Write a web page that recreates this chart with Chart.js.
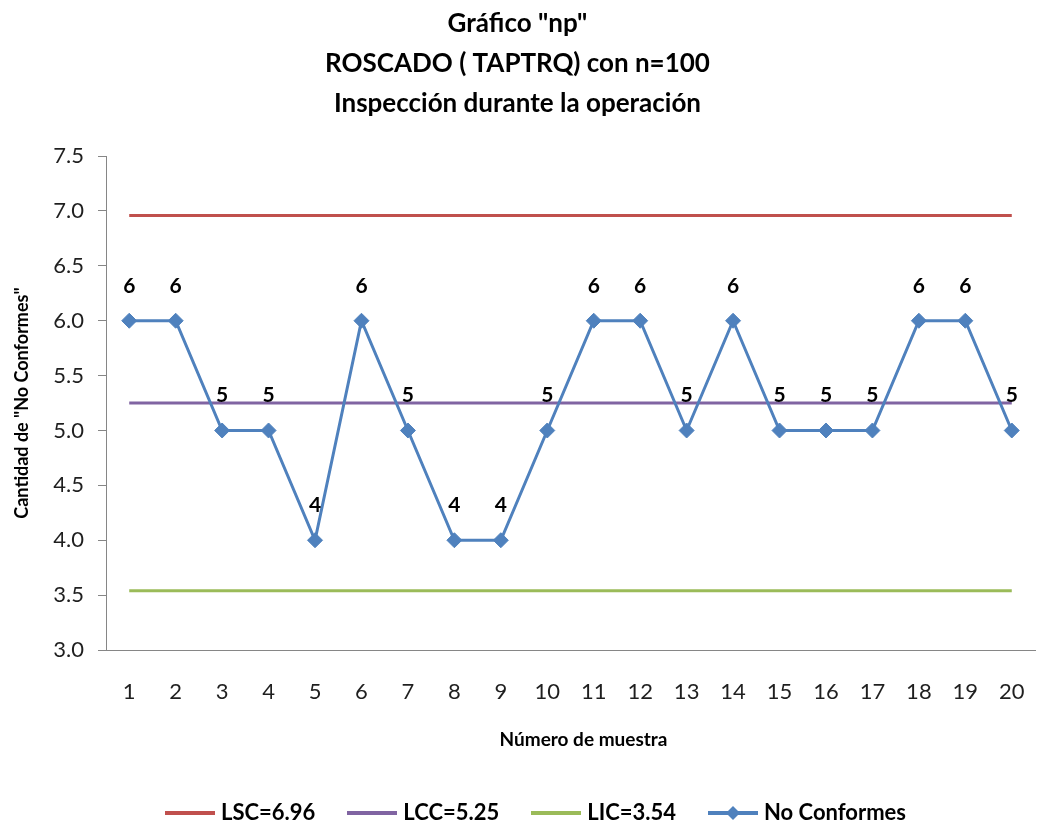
<!DOCTYPE html>
<html>
<head>
<meta charset="utf-8">
<script src="https://cdn.jsdelivr.net/npm/chart.js@4/dist/chart.umd.min.js"></script>
<style>
  html, body { margin: 0; padding: 0; background: #ffffff; }
  #wrap { width: 1056px; height: 825px; }
</style>
</head>
<body>
<div id="wrap"><canvas id="c" width="1056" height="825"></canvas></div>
<script>
// Muestras y número de unidades no conformes por muestra (n = 100)
const muestras = ['1','2','3','4','5','6','7','8','9','10','11','12','13','14','15','16','17','18','19','20'];
const noConformes = [6, 6, 5, 5, 4, 6, 5, 4, 4, 5, 6, 6, 5, 6, 5, 5, 5, 6, 6, 5];

// Límites de control
const LSC = 6.96;
const LCC = 5.25;
const LIC = 3.54;

const tituloLineas = ['Gráfico "np"', 'ROSCADO ( TAPTRQ) con n=100', 'Inspección durante la operación'];
const tituloEjeX = 'Número de muestra';
const tituloEjeY = 'Cantidad de "No Conformes"';

const FONT = 'Lato, "Open Sans", "Liberation Sans", sans-serif';
const C_ROJO = '#C0504D', C_MORADO = '#8064A2', C_VERDE = '#9BBB59', C_AZUL = '#4F81BD';
const C_TEXTO = '#1f1f1f', C_EJE = '#868686';

// Símbolo de leyenda: línea corta, con rombo opcional
function simbolo(color, rombo) {
  const cv = document.createElement('canvas');
  cv.width = 50; cv.height = 18;
  const g = cv.getContext('2d');
  g.strokeStyle = color; g.lineWidth = 4; g.lineCap = 'butt';
  g.beginPath(); g.moveTo(0, 9); g.lineTo(50, 9); g.stroke();
  if (rombo) {
    g.fillStyle = color;
    g.beginPath(); g.moveTo(25, 2); g.lineTo(32, 9); g.lineTo(25, 16); g.lineTo(18, 9); g.closePath(); g.fill();
  }
  return cv;
}

const constante = v => muestras.map(() => v);

// Etiquetas de valor sobre cada punto de la serie principal
const etiquetasValor = {
  id: 'etiquetasValor',
  afterDatasetsDraw(chart) {
    const meta = chart.getDatasetMeta(3);
    const ctx = chart.ctx;
    ctx.save();
    ctx.font = 'bold 21px ' + FONT;
    ctx.fillStyle = '#000000';
    ctx.textAlign = 'center';
    ctx.textBaseline = 'middle';
    meta.data.forEach((pt, i) => {
      ctx.fillText(String(noConformes[i]), pt.x, pt.y - 35);
    });
    ctx.restore();
  }
};

// Título del eje horizontal y desplazamiento de la leyenda
const tituloX = {
  id: 'tituloX',
  afterLayout(chart) {
    const lg = chart.legend;
    const dx = 538 - (lg.left + lg.right) / 2;
    lg.left += dx; lg.right += dx;
  },
  afterDraw(chart) {
    const ctx = chart.ctx;
    const a = chart.chartArea;
    ctx.save();
    ctx.font = 'bold 19px ' + FONT;
    ctx.fillStyle = '#000000';
    ctx.textAlign = 'center';
    ctx.textBaseline = 'middle';
    ctx.fillText(tituloEjeX, (a.left + a.right) / 2 + 13, a.bottom + 90);
    ctx.restore();
  }
};

new Chart(document.getElementById('c'), {
  type: 'line',
  data: {
    labels: muestras,
    datasets: [
      { label: 'LSC=' + LSC.toFixed(2), data: constante(LSC), borderColor: C_ROJO, borderWidth: 3, pointRadius: 0, order: 1, _sym: simbolo(C_ROJO, false) },
      { label: 'LCC=' + LCC.toFixed(2), data: constante(LCC), borderColor: C_MORADO, borderWidth: 3, pointRadius: 0, order: 2, _sym: simbolo(C_MORADO, false) },
      { label: 'LIC=' + LIC.toFixed(2), data: constante(LIC), borderColor: C_VERDE, borderWidth: 3, pointRadius: 0, order: 3, _sym: simbolo(C_VERDE, false) },
      { label: 'No Conformes', data: noConformes, borderColor: C_AZUL, backgroundColor: C_AZUL, borderWidth: 3,
        pointStyle: 'rectRot', pointRadius: 7.5, pointBorderWidth: 1, pointBackgroundColor: C_AZUL, pointBorderColor: C_AZUL,
        order: 0, _sym: simbolo(C_AZUL, true) }
    ]
  },
  options: {
    responsive: false,
    devicePixelRatio: 1,
    animation: false,
    layout: { padding: { left: 0, right: 21, top: 0, bottom: -9 } },
    plugins: {
      tooltip: { enabled: false },
      title: {
        display: true,
        text: tituloLineas,
        color: '#000000',
        font: { family: FONT, size: 26, weight: 'bold', lineHeight: 1.54 },
        padding: { top: 4, bottom: 32 }
      },
      legend: {
        position: 'bottom',
        fullSize: false,
        labels: {
          usePointStyle: true,
          pointStyleWidth: 40,
          color: '#000000',
          font: { family: FONT, size: 22, weight: 'bold' },
          padding: 37,
          generateLabels(chart) {
            return chart.data.datasets.map((ds, i) => ({
              text: ds.label, datasetIndex: i, pointStyle: ds._sym,
              fillStyle: ds.borderColor, strokeStyle: ds.borderColor, lineWidth: 0,
              fontColor: '#000000', hidden: false
            }));
          }
        }
      }
    },
    scales: {
      x: {
        type: 'category',
        offset: true,
        grid: { display: false },
        border: { display: true, color: C_EJE, width: 1 },
        ticks: { color: C_TEXTO, font: { family: FONT, size: 22 }, padding: 21, maxRotation: 0, autoSkip: false },
        afterFit(s) { s.height = 115; }
      },
      y: {
        min: 3.0,
        max: 7.5,
        grid: { display: true, drawOnChartArea: false, drawTicks: true, tickLength: 8, color: C_EJE },
        border: { display: true, color: C_EJE, width: 1 },
        ticks: { stepSize: 0.5, color: C_TEXTO, font: { family: FONT, size: 22 }, padding: 14,
                 callback: v => Number(v).toFixed(1) },
        title: { display: true, text: tituloEjeY, color: '#000000', font: { family: FONT, size: 18, weight: 'bold' }, padding: { top: 11, bottom: 4 } },
        afterFit(s) { s.width = 106; }
      }
    }
  },
  plugins: [etiquetasValor, tituloX]
});
</script>
</body>
</html>
